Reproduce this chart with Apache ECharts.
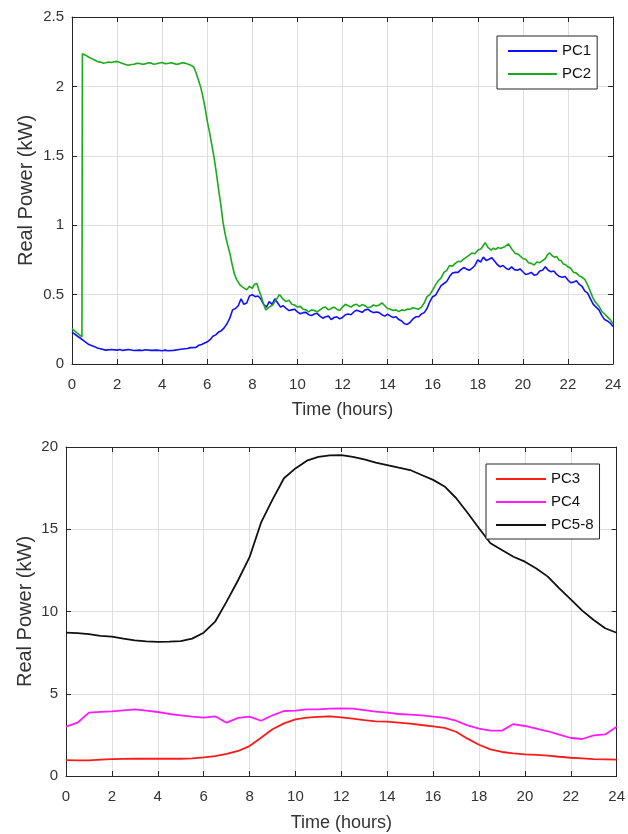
<!DOCTYPE html>
<html><head><meta charset="utf-8">
<script src="https://cdn.jsdelivr.net/npm/echarts@6/dist/echarts.min.js"></script>
<style>html,body{margin:0;padding:0;background:#fff}#c{width:628px;height:834px}</style>
</head><body><div id="c"></div>
<script>
// ---- Top chart data: [hour, kW] ----
const pc1 = [[0,0.23],[0.25,0.20],[0.5,0.17],[0.75,0.14],[1,0.125],[1.125,0.115],[1.25,0.11],[1.5,0.10],[1.75,0.105],[2,0.10],[2.125,0.104],[2.25,0.098],[2.5,0.105],[2.75,0.097],[3,0.10],[3.125,0.097],[3.25,0.103],[3.5,0.098],[3.75,0.10],[4,0.096],[4.125,0.1],[4.25,0.095],[4.5,0.098],[4.75,0.104],[5,0.11],[5.125,0.112],[5.25,0.118],[5.5,0.12],[5.625,0.135],[5.75,0.14],[6,0.16],[6.125,0.175],[6.25,0.20],[6.375,0.21],[6.5,0.23],[6.625,0.24],[6.75,0.26],[6.875,0.29],[7,0.33],[7.125,0.39],[7.25,0.40],[7.375,0.42],[7.5,0.47],[7.625,0.43],[7.75,0.44],[7.875,0.49],[8,0.50],[8.125,0.485],[8.25,0.49],[8.375,0.47],[8.5,0.43],[8.625,0.41],[8.75,0.45],[8.875,0.43],[9,0.47],[9.125,0.44],[9.25,0.41],[9.375,0.42],[9.5,0.40],[9.625,0.385],[9.75,0.39],[9.875,0.395],[10,0.375],[10.125,0.362],[10.25,0.37],[10.375,0.372],[10.5,0.355],[10.625,0.35],[10.75,0.36],[10.875,0.365],[11,0.345],[11.125,0.33],[11.25,0.34],[11.375,0.345],[11.5,0.32],[11.625,0.335],[11.75,0.34],[11.875,0.325],[12,0.335],[12.125,0.355],[12.25,0.36],[12.375,0.355],[12.5,0.375],[12.625,0.388],[12.75,0.38],[12.875,0.372],[13,0.39],[13.125,0.395],[13.25,0.38],[13.375,0.37],[13.5,0.375],[13.625,0.37],[13.75,0.355],[13.875,0.345],[14,0.36],[14.125,0.345],[14.25,0.335],[14.375,0.34],[14.5,0.32],[14.625,0.31],[14.75,0.29],[14.875,0.285],[15,0.30],[15.125,0.325],[15.25,0.34],[15.375,0.34],[15.5,0.36],[15.625,0.37],[15.75,0.40],[15.875,0.45],[16,0.485],[16.125,0.495],[16.25,0.53],[16.375,0.565],[16.5,0.58],[16.625,0.595],[16.75,0.63],[16.875,0.655],[17,0.66],[17.125,0.66],[17.25,0.68],[17.375,0.695],[17.5,0.685],[17.625,0.675],[17.75,0.69],[17.875,0.71],[18,0.75],[18.125,0.735],[18.25,0.77],[18.375,0.745],[18.5,0.755],[18.625,0.765],[18.75,0.74],[18.875,0.715],[19,0.70],[19.125,0.71],[19.25,0.69],[19.375,0.68],[19.5,0.70],[19.625,0.68],[19.75,0.675],[19.875,0.685],[20,0.665],[20.125,0.645],[20.25,0.65],[20.375,0.66],[20.5,0.64],[20.625,0.645],[20.75,0.67],[20.875,0.675],[21,0.70],[21.125,0.675],[21.25,0.665],[21.375,0.67],[21.5,0.645],[21.625,0.63],[21.75,0.625],[21.875,0.63],[22,0.605],[22.125,0.585],[22.25,0.59],[22.375,0.6],[22.5,0.575],[22.625,0.56],[22.75,0.525],[22.875,0.51],[23,0.47],[23.125,0.43],[23.25,0.41],[23.375,0.39],[23.5,0.35],[23.625,0.32],[23.75,0.31],[23.875,0.295],[24,0.27]];
const pc2 = [[0,0.255],[0.25,0.22],[0.44,0.195],[0.46,2.235],[0.6,2.225],[0.75,2.21],[0.875,2.2],[1,2.19],[1.125,2.18],[1.25,2.175],[1.375,2.168],[1.5,2.17],[1.625,2.176],[1.75,2.172],[1.875,2.178],[2,2.18],[2.125,2.172],[2.25,2.165],[2.375,2.158],[2.5,2.152],[2.625,2.158],[2.75,2.16],[2.875,2.166],[3,2.165],[3.125,2.16],[3.25,2.162],[3.375,2.17],[3.5,2.168],[3.625,2.16],[3.75,2.163],[3.875,2.168],[4,2.172],[4.125,2.164],[4.25,2.165],[4.375,2.17],[4.5,2.166],[4.625,2.16],[4.75,2.162],[4.875,2.17],[5,2.168],[5.125,2.162],[5.25,2.155],[5.4,2.14],[5.5,2.1],[5.6,2.05],[5.7,2.0],[5.8,1.93],[5.9,1.85],[6,1.75],[6.1,1.67],[6.2,1.58],[6.3,1.49],[6.4,1.38],[6.5,1.26],[6.6,1.15],[6.7,1.02],[6.8,0.93],[6.9,0.86],[7,0.80],[7.1,0.72],[7.2,0.65],[7.3,0.61],[7.45,0.57],[7.6,0.55],[7.75,0.535],[7.875,0.56],[8,0.545],[8.1,0.575],[8.2,0.58],[8.3,0.53],[8.4,0.485],[8.5,0.43],[8.6,0.39],[8.75,0.41],[8.9,0.425],[9.05,0.46],[9.2,0.50],[9.35,0.47],[9.5,0.45],[9.625,0.46],[9.75,0.43],[9.875,0.425],[10,0.41],[10.125,0.415],[10.25,0.395],[10.375,0.39],[10.5,0.375],[10.625,0.39],[10.75,0.385],[10.875,0.375],[11,0.39],[11.125,0.405],[11.25,0.41],[11.375,0.39],[11.5,0.40],[11.625,0.41],[11.75,0.395],[11.875,0.385],[12,0.41],[12.125,0.43],[12.25,0.42],[12.375,0.41],[12.5,0.425],[12.625,0.43],[12.75,0.415],[12.875,0.428],[13,0.42],[13.125,0.405],[13.25,0.41],[13.375,0.425],[13.5,0.418],[13.625,0.425],[13.75,0.44],[13.875,0.42],[14,0.40],[14.125,0.395],[14.25,0.385],[14.375,0.39],[14.5,0.377],[14.625,0.39],[14.75,0.385],[14.875,0.395],[15,0.394],[15.125,0.405],[15.25,0.40],[15.375,0.395],[15.5,0.41],[15.625,0.44],[15.75,0.485],[15.875,0.5],[16,0.533],[16.125,0.57],[16.25,0.60],[16.375,0.62],[16.5,0.66],[16.625,0.675],[16.75,0.71],[16.875,0.705],[17,0.725],[17.125,0.74],[17.25,0.737],[17.375,0.755],[17.5,0.77],[17.625,0.785],[17.75,0.80],[17.875,0.795],[18,0.82],[18.15,0.83],[18.33,0.874],[18.45,0.84],[18.6,0.82],[18.7,0.835],[18.8,0.825],[18.9,0.84],[19,0.833],[19.2,0.845],[19.36,0.865],[19.5,0.83],[19.66,0.797],[19.8,0.79],[20,0.76],[20.125,0.755],[20.25,0.73],[20.375,0.725],[20.5,0.713],[20.625,0.735],[20.75,0.73],[20.875,0.745],[21,0.76],[21.1,0.79],[21.2,0.80],[21.3,0.78],[21.4,0.77],[21.5,0.775],[21.6,0.75],[21.7,0.745],[21.8,0.72],[21.9,0.715],[22,0.70],[22.125,0.69],[22.25,0.66],[22.375,0.655],[22.5,0.635],[22.625,0.625],[22.75,0.61],[22.82,0.62],[22.9,0.56],[23,0.52],[23.1,0.48],[23.2,0.45],[23.3,0.43],[23.4,0.41],[23.5,0.38],[23.625,0.36],[23.75,0.34],[23.875,0.32],[24,0.29]];

// ---- Bottom chart data: half-hour samples ----
const hoursHalf = [0,0.5,1,1.5,2,2.5,3,3.5,4,4.5,5,5.5,6,6.5,7,7.5,8,8.5,9,9.5,10,10.5,11,11.5,12,12.5,13,13.5,14,14.5,15,15.5,16,16.5,17,17.5,18,18.5,19,19.5,20,20.5,21,21.5,22,22.5,23,23.5,24];
const pc3 = [0.97,0.95,0.95,1.0,1.03,1.04,1.05,1.05,1.05,1.05,1.05,1.07,1.13,1.21,1.34,1.52,1.82,2.33,2.84,3.2,3.44,3.55,3.59,3.63,3.57,3.49,3.4,3.32,3.3,3.25,3.19,3.1,3.02,2.92,2.69,2.27,1.9,1.62,1.46,1.38,1.32,1.28,1.24,1.17,1.11,1.07,1.03,1.01,0.99];
const pc4 = [3.0,3.24,3.85,3.9,3.93,3.99,4.05,3.98,3.89,3.77,3.69,3.61,3.55,3.63,3.24,3.53,3.61,3.36,3.69,3.95,3.97,4.05,4.05,4.09,4.11,4.09,4.01,3.91,3.85,3.77,3.73,3.69,3.61,3.53,3.36,3.08,2.88,2.76,2.76,3.16,3.04,2.88,2.72,2.51,2.31,2.25,2.47,2.53,3.0];
const pc58 = [8.71,8.68,8.63,8.52,8.47,8.35,8.25,8.18,8.15,8.17,8.2,8.35,8.71,9.38,10.6,11.9,13.3,15.4,16.8,18.1,18.7,19.17,19.4,19.49,19.5,19.4,19.25,19.05,18.9,18.74,18.6,18.3,18.0,17.6,16.9,16.0,15.06,14.15,13.74,13.33,13.03,12.62,12.12,11.4,10.74,10.05,9.48,8.98,8.71];

const FONT = "'Liberation Sans', Arial, Helvetica, sans-serif";
const AX = '#262626';
const TXT = '#333333';
const pair = (xs, ys) => xs.map((x, i) => [x, ys[i]]);

function xMain(gi, gap) {
  return { type:'value', gridIndex:gi, min:0, max:24, interval:2, position:'bottom',
    axisLine:{show:true, onZero:false, lineStyle:{color:AX, width:1}},
    axisTick:{show:true, inside:true, length:5, lineStyle:{color:AX}},
    axisLabel:{margin:13, fontSize:15, color:TXT, fontFamily:FONT},
    splitLine:{show:true, lineStyle:{color:'#dedede', width:1}},
    name:'Time (hours)', nameLocation:'middle', nameGap:gap, nameMoveOverlap:false,
    nameTextStyle:{fontSize:18, color:TXT, fontFamily:FONT} };
}
function xTop(gi) {
  return { type:'value', gridIndex:gi, min:0, max:24, interval:2, position:'top',
    axisLine:{show:true, onZero:false, lineStyle:{color:AX, width:1}},
    axisTick:{show:true, inside:true, length:5, lineStyle:{color:AX}},
    axisLabel:{show:false}, splitLine:{show:false} };
}
function yMain(gi, max, interval, gap) {
  return { type:'value', gridIndex:gi, min:0, max:max, interval:interval, position:'left',
    axisLine:{show:true, onZero:false, lineStyle:{color:AX, width:1}},
    axisTick:{show:true, inside:true, length:5, lineStyle:{color:AX}},
    axisLabel:{margin:8, fontSize:15, color:TXT, fontFamily:FONT},
    splitLine:{show:true, lineStyle:{color:'#dedede', width:1}},
    name:'Real Power (kW)', nameLocation:'middle', nameRotate:90, nameGap:gap, nameMoveOverlap:false,
    nameTextStyle:{fontSize:20, color:TXT, fontFamily:FONT} };
}
function yRight(gi, max, interval) {
  return { type:'value', gridIndex:gi, min:0, max:max, interval:interval, position:'right',
    axisLine:{show:true, onZero:false, lineStyle:{color:AX, width:1}},
    axisTick:{show:true, inside:true, length:5, lineStyle:{color:AX}},
    axisLabel:{show:false}, splitLine:{show:false} };
}
function line(name, data, color, xi, yi, w) {
  return { name, type:'line', data, xAxisIndex:xi, yAxisIndex:yi, symbol:'none', showSymbol:false,
    lineStyle:{color, width:w}, itemStyle:{color}, emphasis:{disabled:true}, z:3 };
}
const legendBase = { orient:'vertical', icon:'rect', itemHeight:2, itemGap:7, selectedMode:false,
  borderColor:AX, borderWidth:1, backgroundColor:'#fff',
  textStyle:{fontSize:15, color:'#111', fontFamily:FONT, lineHeight:16} };

const chart = echarts.init(document.getElementById('c'), null, {renderer:'canvas'});
chart.setOption({
  animation:false,
  backgroundColor:'#fff',
  grid:[
    {left:72, top:17, width:541, height:347},
    {left:66, top:447, width:551, height:329}
  ],
  xAxis:[xMain(0, 37), xTop(0), xMain(1, 38), xTop(1)],
  yAxis:[yMain(0, 2.5, 0.5, 36), yRight(0, 2.5, 0.5), yMain(1, 20, 5, 31), yRight(1, 20, 5)],
  legend:[
    Object.assign({}, legendBase, {data:['PC1','PC2'], left:497, top:36, itemWidth:49, padding:[7,6,7,11]}),
    Object.assign({}, legendBase, {data:['PC3','PC4','PC5-8'], left:486, top:464, itemWidth:50, padding:[7,6,6,10]})
  ],
  series:[
    line('PC1', pc1, '#1010ff', 0, 0, 1.6),
    line('PC2', pc2, '#1aaa1a', 0, 0, 1.6),
    line('PC3', pair(hoursHalf, pc3), '#ff1a1a', 2, 2, 1.8),
    line('PC4', pair(hoursHalf, pc4), '#ff1aff', 2, 2, 1.8),
    line('PC5-8', pair(hoursHalf, pc58), '#111111', 2, 2, 1.8)
  ]
});
</script></body></html>
